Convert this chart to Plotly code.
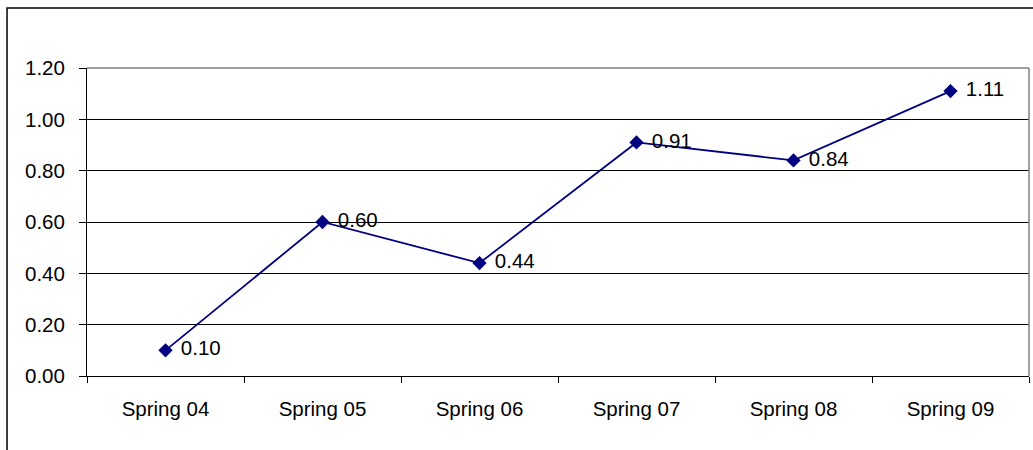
import plotly.graph_objects as go

# Season labels and the measured values
seasons = ["Spring 04", "Spring 05", "Spring 06", "Spring 07", "Spring 08", "Spring 09"]
values = [0.10, 0.60, 0.44, 0.91, 0.84, 1.11]
y_ticks = [0.0, 0.2, 0.4, 0.6, 0.8, 1.0, 1.2]

navy = "#000080"
font_family = "Liberation Sans, Arial, sans-serif"
text_size = 20.5

fig = go.Figure()
fig.add_trace(go.Scatter(
    x=seasons,
    y=values,
    mode="lines+markers+text",
    line=dict(color=navy, width=1.8),
    marker=dict(symbol="diamond", size=11, color=navy),
    texttemplate=" \u200a%{y:.2f}",
    textposition="middle right",
    textfont=dict(family=font_family, size=text_size, color="black"),
    cliponaxis=False,
    showlegend=False,
))

# Outer chart frame
fig.add_shape(type="rect", xref="paper", yref="paper",
              x0=-0.0849, x1=1.2, y0=-0.5, y1=1.1948,
              line=dict(color="black", width=1.5), layer="below")

fig.update_layout(
    width=1033, height=450,
    margin=dict(l=87, r=4, t=68, b=74),
    paper_bgcolor="white",
    plot_bgcolor="white",
    font=dict(family=font_family, size=text_size, color="black"),
    xaxis=dict(
        type="category",
        range=[-0.5, len(seasons) - 0.5],
        tickson="boundaries",
        ticks="outside", ticklen=6, tickcolor="black", tickwidth=1,
        showgrid=False,
        showline=True, linecolor="black", linewidth=1,
        mirror=False,
        ticklabelstandoff=14,
        tickfont=dict(size=text_size),
    ),
    yaxis=dict(
        range=[0, 1.2],
        tickvals=y_ticks,
        ticktext=[f"{t:.2f}" for t in y_ticks],
        ticks="outside", ticklen=7, tickcolor="black", tickwidth=1,
        showgrid=True, gridcolor="black", gridwidth=1,
        showline=True, linecolor="black", linewidth=1,
        zeroline=False,
        ticklabelstandoff=10,
        tickfont=dict(size=text_size),
    ),
)

# Light grey border on the top and right of the plot area
fig.add_shape(type="line", xref="paper", yref="paper", x0=0, x1=1, y0=1, y1=1,
              line=dict(color="#808080", width=1.5))
fig.add_shape(type="line", xref="paper", yref="paper", x0=1, x1=1, y0=0, y1=1,
              line=dict(color="#808080", width=1.5))

fig.write_html("out.html")
